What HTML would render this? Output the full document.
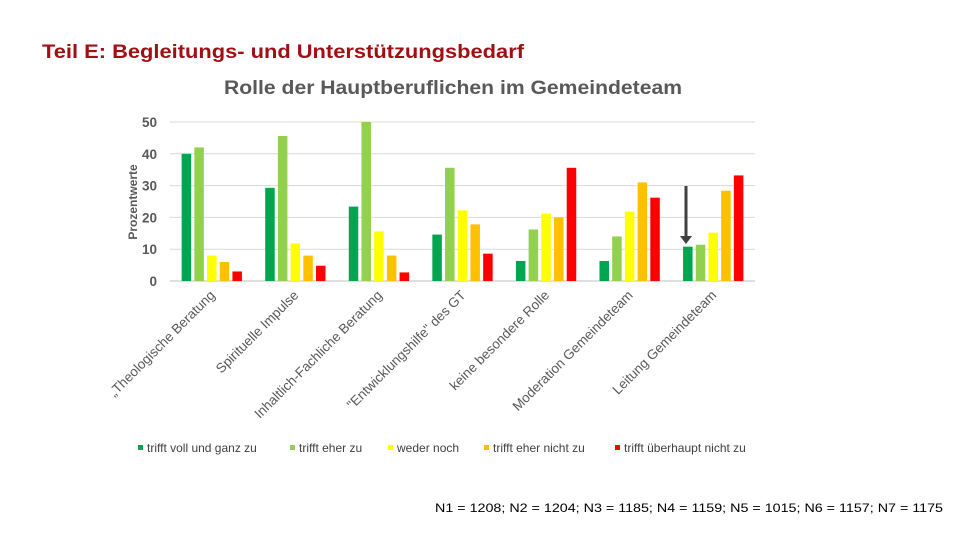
<!DOCTYPE html>
<html><head><meta charset="utf-8"><style>
html,body{margin:0;padding:0;background:#fff;}
svg{display:block;font-family:"Liberation Sans",sans-serif;}
</style></head><body>
<svg id="chart" width="960" height="540" viewBox="0 0 960 540">
<text x="42" y="58" font-size="19" font-weight="bold" fill="#a00f14" textLength="482" lengthAdjust="spacingAndGlyphs">Teil E: Begleitungs- und Unterstützungsbedarf</text>
<text x="224" y="94" font-size="19" font-weight="bold" fill="#595959" textLength="458" lengthAdjust="spacingAndGlyphs">Rolle der Hauptberuflichen im Gemeindeteam</text>
<text transform="translate(137,202) rotate(-90)" text-anchor="middle" font-size="12" font-weight="bold" fill="#595959">Prozentwerte</text>
<g id="grid"></g><g id="bars"></g><g id="xlabels"></g>
<line x1="686" y1="186" x2="686" y2="238" stroke="#404040" stroke-width="3"/>
<polygon points="680,236 692,236 686,244" fill="#404040"/>
<g id="legend"></g>
<text x="943" y="512" text-anchor="end" font-size="12" fill="#000" textLength="508" lengthAdjust="spacingAndGlyphs">N1 = 1208; N2 = 1204; N3 = 1185; N4 = 1159; N5 = 1015; N6 = 1157; N7 = 1175</text>
</svg>
<script>
const categories=["„Theologische Beratung","Spirituelle Impulse","Inhaltlich-Fachliche Beratung","\"Entwicklungshilfe\" des GT","keine besondere Rolle","Moderation Gemeindeteam","Leitung Gemeindeteam"];
const seriesNames=["trifft voll und ganz zu","trifft eher zu","weder noch","trifft eher nicht zu","trifft überhaupt nicht zu"];
const s1=[40,29.3,23.4,14.6,6.3,6.3,10.8];
const s2=[42,45.6,50,35.6,16.2,14,11.4];
const s3=[8,11.8,15.6,22.2,21.2,21.8,15.2];
const s4=[6,8,8,17.8,20,31,28.4];
const s5=[3,4.8,2.7,8.6,35.6,26.2,33.2];
const yTicks=[0,10,20,30,40,50];
const series=[s1,s2,s3,s4,s5];
const colors=["#00a550","#92d050","#ffff00","#ffc000","#ff0000"];
const NS="http://www.w3.org/2000/svg";
const x0=170,x1=755,yBase=281,yTop=122,yMax=50;
const band=(x1-x0)/categories.length;
function y(v){return yBase-(v/yMax)*(yBase-yTop);}
function xc(i){return x0+band*(i+0.5);}
function mk(t,a,p){const e=document.createElementNS(NS,t);for(const k in a)e.setAttribute(k,a[k]);p.appendChild(e);return e;}
const grid=document.getElementById('grid');
yTicks.forEach(t=>{
 const l=mk('line',{x1:x0,x2:x1,y1:y(t),y2:y(t),stroke:t===0?'#bfbfbf':'#d9d9d9','stroke-width':1},grid);
 
 
 const tx=mk('text',{x:157,y:y(t)+5,'text-anchor':'end','font-size':13.5,'font-weight':'bold',fill:'#595959'},grid);
 tx.textContent=t;
 
 
});
const bars=document.getElementById('bars');
const bw=9.5,step=12.7;
series.forEach((s,j)=>{
 s.forEach((v,i)=>{
  const cx=xc(i)+(j-2)*step;
  const r=mk('rect',{x:cx-bw/2,y:y(v),width:bw,height:yBase-y(v),fill:colors[j]},bars);
  
  
 });
});
const xl=document.getElementById('xlabels');
categories.forEach((c,i)=>{
 const tx=mk('text',{transform:'translate('+(xc(i)+4)+',296) rotate(-45)','text-anchor':'end','font-size':13.5,fill:'#595959'},xl);
 tx.textContent=c;
 
 
});
const lg=document.getElementById('legend');
const lx=[138,290,388,484,615];
seriesNames.forEach((n,j)=>{
 const r=mk('rect',{x:lx[j],y:445,width:5,height:5,fill:colors[j]},lg);
 
 
 const t=mk('text',{x:lx[j]+9,y:452,'font-size':12,fill:'#404040'},lg);
 t.textContent=n;
 
 
});
</script>
</body></html>
